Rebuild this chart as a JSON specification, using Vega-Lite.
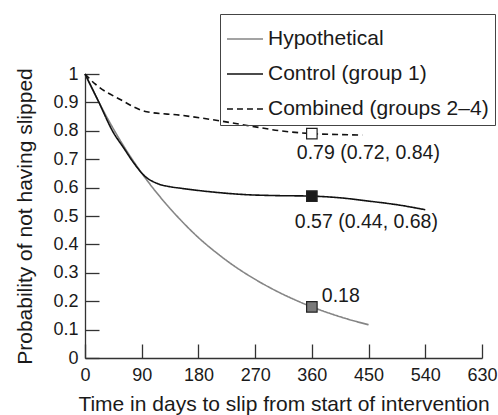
{
  "$schema": "https://vega.github.io/schema/vega-lite/v6.json",
  "autosize": {"type": "none"},
  "width": 397,
  "height": 284,
  "padding": {"left": 85, "top": 74, "right": 16, "bottom": 57},
  "background": "white",
  "config": {
    "view": {"stroke": null},
    "font": "Liberation Sans",
    "axis": {
      "grid": false,
      "domainColor": "#333333",
      "domainWidth": 1.3,
      "tickColor": "#333333",
      "tickWidth": 1.3,
      "tickSize": -14,
      "labelOverlap": false,
      "labelFlush": false,
      "labelFont": "Liberation Sans",
      "labelFontSize": 18,
      "labelColor": "#1a1a1a",
      "titleFont": "Liberation Sans",
      "titleFontSize": 21,
      "titleFontWeight": "normal",
      "titleColor": "#1a1a1a"
    }
  },
  "datasets": {
    "curves": [
      {"series": "Hypothetical", "t": 0, "p": 1},
      {"series": "Hypothetical", "t": 30, "p": 0.867},
      {"series": "Hypothetical", "t": 60, "p": 0.751},
      {"series": "Hypothetical", "t": 90, "p": 0.651},
      {"series": "Hypothetical", "t": 120, "p": 0.565},
      {"series": "Hypothetical", "t": 150, "p": 0.49},
      {"series": "Hypothetical", "t": 180, "p": 0.424},
      {"series": "Hypothetical", "t": 210, "p": 0.368},
      {"series": "Hypothetical", "t": 240, "p": 0.319},
      {"series": "Hypothetical", "t": 270, "p": 0.277},
      {"series": "Hypothetical", "t": 300, "p": 0.24},
      {"series": "Hypothetical", "t": 330, "p": 0.208},
      {"series": "Hypothetical", "t": 360, "p": 0.18},
      {"series": "Hypothetical", "t": 390, "p": 0.156},
      {"series": "Hypothetical", "t": 420, "p": 0.135},
      {"series": "Hypothetical", "t": 450, "p": 0.117},
      {"series": "Control (group 1)", "t": 0, "p": 1},
      {"series": "Control (group 1)", "t": 20, "p": 0.91},
      {"series": "Control (group 1)", "t": 45, "p": 0.794},
      {"series": "Control (group 1)", "t": 61, "p": 0.741},
      {"series": "Control (group 1)", "t": 77, "p": 0.688},
      {"series": "Control (group 1)", "t": 95, "p": 0.64},
      {"series": "Control (group 1)", "t": 114, "p": 0.615},
      {"series": "Control (group 1)", "t": 135, "p": 0.603},
      {"series": "Control (group 1)", "t": 151, "p": 0.598},
      {"series": "Control (group 1)", "t": 200, "p": 0.585},
      {"series": "Control (group 1)", "t": 257, "p": 0.575},
      {"series": "Control (group 1)", "t": 300, "p": 0.572},
      {"series": "Control (group 1)", "t": 360, "p": 0.57},
      {"series": "Control (group 1)", "t": 400, "p": 0.565},
      {"series": "Control (group 1)", "t": 452, "p": 0.552},
      {"series": "Control (group 1)", "t": 500, "p": 0.538},
      {"series": "Control (group 1)", "t": 540, "p": 0.522},
      {"series": "Combined (groups 2–4)", "t": 0, "p": 1},
      {"series": "Combined (groups 2–4)", "t": 16, "p": 0.965},
      {"series": "Combined (groups 2–4)", "t": 56, "p": 0.91},
      {"series": "Combined (groups 2–4)", "t": 98, "p": 0.867},
      {"series": "Combined (groups 2–4)", "t": 151, "p": 0.855},
      {"series": "Combined (groups 2–4)", "t": 214, "p": 0.835},
      {"series": "Combined (groups 2–4)", "t": 262, "p": 0.817},
      {"series": "Combined (groups 2–4)", "t": 310, "p": 0.8},
      {"series": "Combined (groups 2–4)", "t": 360, "p": 0.79},
      {"series": "Combined (groups 2–4)", "t": 400, "p": 0.787},
      {"series": "Combined (groups 2–4)", "t": 440, "p": 0.785}
    ],
    "markers": [
      {"series": "Hypothetical", "t": 360, "p": 0.18, "label": "0.18"},
      {"series": "Control (group 1)", "t": 360, "p": 0.57, "label": "0.57 (0.44, 0.68)"},
      {"series": "Combined (groups 2–4)", "t": 360, "p": 0.79, "label": "0.79 (0.72, 0.84)"}
    ]
  },
  "encoding": {
    "x": {
      "field": "t", "type": "quantitative",
      "scale": {"domain": [0, 630], "nice": false},
      "axis": {"values": [0, 90, 180, 270, 360, 450, 540, 630], "title": "Time in days to slip from start of intervention", "labelPadding": 22, "titlePadding": 9}
    },
    "y": {
      "field": "p", "type": "quantitative",
      "scale": {"domain": [0, 1], "nice": false},
      "axis": {"values": [0, 0.1, 0.2, 0.3, 0.4, 0.5, 0.6, 0.7, 0.8, 0.9, 1], "tickCount": 11, "format": "~g", "title": "Probability of not having slipped", "labelPadding": 21, "titlePadding": 17}
    }
  },
  "layer": [
    {
      "data": {"name": "curves"},
      "mark": {"type": "line", "interpolate": "monotone"},
      "encoding": {
        "color": {
          "field": "series", "type": "nominal",
          "scale": {"domain": ["Hypothetical", "Control (group 1)", "Combined (groups 2–4)"], "range": ["#858585", "#111111", "#111111"]},
          "legend": {
            "title": null,
            "orient": "none",
            "legendX": 135,
            "legendY": -60,
            "symbolType": "stroke",
            "symbolSize": 1300,
            "symbolStrokeWidth": 1.5,
            "labelFont": "Liberation Sans",
            "labelFontSize": 21,
            "labelColor": "#1a1a1a",
            "labelOffset": 4,
            "labelLimit": 400,
            "strokeColor": "#444444",
            "padding": 6,
            "rowPadding": 6
          }
        },
        "strokeDash": {
          "field": "series", "type": "nominal",
          "scale": {"domain": ["Hypothetical", "Control (group 1)", "Combined (groups 2–4)"], "range": [[1, 0], [1, 0], [6, 4]]},
          "legend": {
            "title": null,
            "orient": "none",
            "legendX": 135,
            "legendY": -60,
            "symbolType": "stroke",
            "symbolSize": 1300,
            "symbolStrokeWidth": 1.5,
            "labelFont": "Liberation Sans",
            "labelFontSize": 21,
            "labelColor": "#1a1a1a",
            "labelOffset": 4,
            "labelLimit": 400,
            "strokeColor": "#444444",
            "padding": 6,
            "rowPadding": 6
          }
        },
        "strokeWidth": {"value": 1.6}
      }
    },
    {
      "data": {"name": "markers"},
      "mark": {"type": "square", "size": 110, "stroke": "#222222", "strokeWidth": 1.2, "opacity": 1},
      "encoding": {
        "fill": {
          "field": "series", "type": "nominal",
          "scale": {"domain": ["Hypothetical", "Control (group 1)", "Combined (groups 2–4)"], "range": ["#7a7a7a", "#1a1a1a", "#ffffff"]},
          "legend": null
        }
      }
    },
    {
      "data": {"name": "markers"},
      "transform": [{"filter": "datum.series === 'Hypothetical'"}],
      "mark": {"type": "text", "align": "left", "baseline": "middle", "dx": 10, "dy": -11, "fontSize": 19.5, "font": "Liberation Sans", "color": "#1a1a1a"},
      "encoding": {"text": {"field": "label"}}
    },
    {
      "data": {"name": "markers"},
      "transform": [{"filter": "datum.series === 'Control (group 1)'"}],
      "mark": {"type": "text", "align": "left", "baseline": "middle", "dx": -17, "dy": 26, "fontSize": 19.5, "font": "Liberation Sans", "color": "#1a1a1a"},
      "encoding": {"text": {"field": "label"}}
    },
    {
      "data": {"name": "markers"},
      "transform": [{"filter": "datum.series === 'Combined (groups 2–4)'"}],
      "mark": {"type": "text", "align": "left", "baseline": "middle", "dx": -15, "dy": 19, "fontSize": 19.5, "font": "Liberation Sans", "color": "#1a1a1a"},
      "encoding": {"text": {"field": "label"}}
    }
  ]
}
